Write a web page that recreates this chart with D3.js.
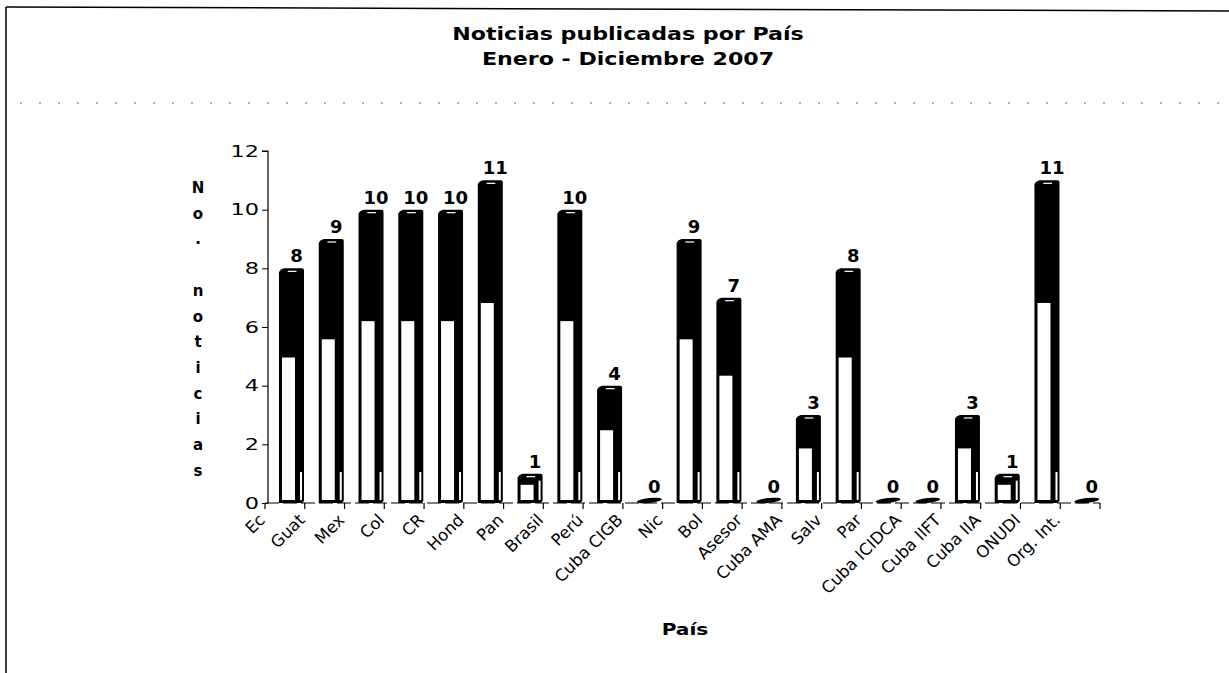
<!DOCTYPE html>
<html>
<head>
<meta charset="utf-8">
<script src="https://cdn.jsdelivr.net/npm/d3@7"></script>
<style>
  html, body { margin: 0; padding: 0; background: #fff; }
  svg { display: block; font-family: "DejaVu Sans", Verdana, sans-serif; }
</style>
</head>
<body>
<svg id="chart" width="1229" height="673"></svg>
<script>
const titleLines = ['Noticias publicadas por País', 'Enero - Diciembre 2007'];
const yLabel = 'No. noticias';
const xLabel = 'País';
const paises = ['Ec', 'Guat', 'Mex', 'Col', 'CR', 'Hond', 'Pan', 'Brasil', 'Perú', 'Cuba CIGB', 'Nic',
    'Bol', 'Asesor', 'Cuba AMA', 'Salv', 'Par', 'Cuba ICIDCA', 'Cuba IIFT', 'Cuba IIA', 'ONUDI', 'Org. Int.'];
const noticias = [8, 9, 10, 10, 10, 11, 1, 10, 4, 0, 9, 7, 0, 3, 8, 0, 0, 3, 1, 11, 0];
const yTicks = [0, 2, 4, 6, 8, 10, 12];

const svg = d3.select('#chart');
const data = paises.map((p, i) => ({ pais: p, value: noticias[i] }));

const x = d3.scaleBand().domain(paises).range([265, 1100]).padding(0);
const y = d3.scaleLinear().domain([0, 12]).range([503, 151]);
const bw = 25;

// frame of the scanned page
svg.append('line').attr('x1', 6).attr('y1', 7).attr('x2', 1229).attr('y2', 11)
    .attr('stroke', '#000').attr('stroke-width', 1.5);
svg.append('line').attr('x1', 6).attr('y1', 7).attr('x2', 6).attr('y2', 673)
    .attr('stroke', '#000').attr('stroke-width', 1.5);
svg.append('line').attr('x1', 20).attr('y1', 103).attr('x2', 1229).attr('y2', 103)
    .attr('stroke', '#666').attr('stroke-width', 1).attr('stroke-dasharray', '2,17');

// title (the scan is stretched sideways, so the text is too)
svg.append('g')
    .attr('transform', 'translate(628,40) scale(1.23,1)')
    .selectAll('text')
    .data(titleLines)
    .join('text')
    .attr('x', 0)
    .attr('y', (d, i) => i * 25)
    .attr('text-anchor', 'middle')
    .style('font-weight', 'bold')
    .style('font-size', '18px')
    .text((d) => d);

// y axis
const yAxis = svg.append('g').attr('transform', 'translate(268,0)')
    .call(d3.axisLeft(y).tickValues(yTicks).tickSize(6));
yAxis.select('.domain').attr('stroke', '#000').attr('stroke-width', 1.2).attr('d', `M-6,${y(12)}H0V${y(0)}`);
yAxis.selectAll('text')
    .attr('x', 0)
    .attr('transform', 'translate(-9,0) scale(1.4,1)')
    .style('font-size', '16px')
    .style('font-family', '"DejaVu Sans", Verdana, sans-serif')
    .attr('fill', '#000');

// y label, one letter per line
svg.append('g').selectAll('text')
    .data(yLabel.split(''))
    .join('text')
    .attr('x', 198)
    .attr('y', (d, i) => 193 + i * 25.7)
    .attr('text-anchor', 'middle')
    .style('font-weight', 'bold')
    .style('font-size', '15px')
    .text((d) => d);

// x axis: baseline with ticks on band edges
const edges = paises.map((p) => x(p)).concat([x.range()[1]]);
svg.append('line').attr('x1', 265).attr('x2', 1100).attr('y1', y(0)).attr('y2', y(0))
    .attr('stroke', '#000').attr('stroke-width', 1).attr('stroke-dasharray', '14,4');
svg.append('g').selectAll('line')
    .data(edges)
    .join('line')
    .attr('x1', (d) => d).attr('x2', (d) => d)
    .attr('y1', y(0)).attr('y2', y(0) + 6)
    .attr('stroke', '#000').attr('stroke-width', 1.2);

svg.append('g').selectAll('text')
    .data(paises)
    .join('text')
    .attr('transform', (d) => `translate(${x(d) + 1},521) rotate(-45)`)
    .attr('text-anchor', 'end')
    .style('font-size', '16.5px')
    .text((d) => d);

svg.append('text')
    .attr('transform', 'translate(685,635) scale(1.3,1)')
    .attr('text-anchor', 'middle')
    .style('font-weight', 'bold')
    .style('font-size', '15.5px')
    .text(xLabel);

// bars: black cylinders with a white highlight in the lower left part
const bars = svg.append('g').selectAll('g')
    .data(data)
    .join('g')
    .attr('transform', (d) => `translate(${x(d.pais) + 14},0)`);

bars.each(function (d) {
    const g = d3.select(this);
    if (d.value === 0) {
        g.append('ellipse')
            .attr('cx', bw / 2).attr('cy', y(0) - 2.5)
            .attr('rx', bw / 2).attr('ry', 2.5)
            .attr('transform', `rotate(-6,${bw / 2},${y(0) - 2.5})`)
            .attr('fill', '#000');
        return;
    }
    const top = y(d.value);
    const h = y(0) - top;
    g.append('path')
        .attr('d', `M0,${y(0)}V${top + 4}Q1,${top + 1} 5,${top}H${bw - 2}Q${bw},${top} ${bw},${top + 2}V${y(0) - 2}L${bw - 2},${y(0)}Z`)
        .attr('fill', '#000');
    g.append('rect')
        .attr('x', 3).attr('width', 13)
        .attr('y', y(d.value * 0.62)).attr('height', y(0) - 3 - y(d.value * 0.62))
        .attr('fill', '#fff');
    g.append('rect')
        .attr('x', bw - 4).attr('width', 2)
        .attr('y', y(0) - 3 - Math.min(28, h - 10)).attr('height', Math.min(28, h - 10))
        .attr('fill', '#fff');
    g.append('line')
        .attr('x1', bw * 0.35).attr('x2', bw * 0.7)
        .attr('y1', top + 3).attr('y2', top + 3)
        .attr('stroke', '#fff').attr('stroke-width', 1.2);
});

bars.append('text')
    .attr('x', bw / 2 + 5)
    .attr('y', (d) => (d.value === 0 ? y(0) - 10 : y(d.value) - 6))
    .attr('text-anchor', 'middle')
    .style('font-weight', 'bold')
    .style('font-size', '18px')
    .text((d) => d.value);
</script>
</body>
</html>
